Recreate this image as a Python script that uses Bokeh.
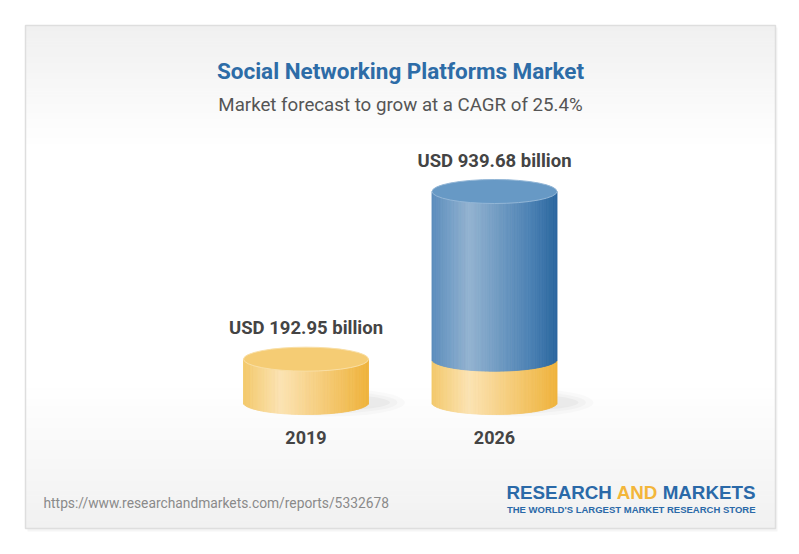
import numpy as np
from bokeh.plotting import figure
from bokeh.models import Range1d
from bokeh.core.properties import value
from bokeh.embed import file_html
from bokeh.resources import INLINE

# ---------------- data ----------------
title_text = "Social Networking Platforms Market"
subtitle_text = "Market forecast to grow at a CAGR of 25.4%"
years = ["2019", "2026"]
market_usd_bn = [192.95, 939.68]
value_labels = ["USD 192.95 billion", "USD 939.68 billion"]
source_url = "https://www.researchandmarkets.com/reports/5332678"
brand_left = "RESEARCH"
brand_mid = "AND"
brand_right = "MARKETS"
tagline = "THE WORLD'S LARGEST MARKET RESEARCH STORE"

# ---------------- layout ----------------
W, H = 783, 538
BASE_PX = 402.0          # pixel row of value 0 (cylinder base centre)
TOP_PX = 191.0           # pixel row of the largest value
scale = (BASE_PX - TOP_PX) / max(market_usd_bn)   # px per billion
y_lo = -(H - BASE_PX) / scale
y_hi = BASE_PX / scale

centers = [305.5, 494.0]
semi_w = 62.5
semi_h = 12.0            # ellipse semi-height in px
b_val = semi_h / scale   # in value units

p = figure(width=W, height=H, x_range=Range1d(0, W), y_range=Range1d(y_lo, y_hi),
           output_backend="svg", toolbar_location=None, min_border=0,
           x_axis_type=None, y_axis_type=None)
p.extra_y_ranges = {"px": Range1d(H, 0)}
p.grid.visible = False
p.outline_line_color = None
p.background_fill_color = "white"
p.border_fill_color = "white"


def hex2rgb(h):
    h = h.lstrip("#")
    return np.array([int(h[i:i + 2], 16) for i in (0, 2, 4)], dtype=float)


def grad(stops, t):
    pos = [s[0] for s in stops]
    cols = [hex2rgb(s[1]) for s in stops]
    out = []
    for tt in t:
        for k in range(len(pos) - 1):
            if pos[k] <= tt <= pos[k + 1]:
                f = (tt - pos[k]) / (pos[k + 1] - pos[k])
                c = cols[k] * (1 - f) + cols[k + 1] * f
                break
        else:
            c = cols[-1]
        out.append("#%02x%02x%02x" % tuple(int(round(v)) for v in c))
    return out


# ---------------- card ----------------
CL, CR, CT, CB = 25, 775, 25, 528
p.quad(left=[CL + 2], right=[CR + 2], top=[CB + 3], bottom=[CT + 2], y_range_name="px",
       fill_color="#000000", fill_alpha=0.04, line_color=None)
p.quad(left=[CL], right=[CR], top=[CB], bottom=[CT], y_range_name="px",
       fill_color="white", line_color=None)
n = 40
ys = np.linspace(CT, 150, n + 1)
cols = grad([(0, "#f0f0f0"), (1, "#ffffff")], np.linspace(0, 1, n))
p.quad(left=CL, right=CR, top=ys[:-1], bottom=ys[1:] + 0.6, y_range_name="px",
       fill_color=cols, line_color=None)
ys = np.linspace(380, CB, n + 1)
cols = grad([(0, "#ffffff"), (1, "#f1f1f1")], np.linspace(0, 1, n))
p.quad(left=CL, right=CR, top=ys[:-1], bottom=ys[1:] + 0.6, y_range_name="px",
       fill_color=cols, line_color=None)
p.quad(left=[CL], right=[CR], top=[CB], bottom=[CT], y_range_name="px",
       fill_color=None, line_color="#dedede", line_width=1.5)

# ---------------- cylinders ----------------
yellow_stops = [(0, "#f3c86a"), (0.3, "#fbe3b3"), (1, "#efb33c")]
blue_stops = [(0, "#5a8cbc"), (0.3, "#93b3d0"), (0.8, "#4a80b3"), (1, "#2b679f")]
N = 90


def body(cx, bottoms_fn, tops_fn, stops):
    edges = np.linspace(cx - semi_w, cx + semi_w, N + 1)
    mids = (edges[:-1] + edges[1:]) / 2
    t = (mids - edges[0]) / (2 * semi_w)
    curve = np.sqrt(np.clip(1 - ((mids - cx) / semi_w) ** 2, 0, 1))
    c = grad(stops, t)
    p.quad(left=edges[:-1], right=edges[1:], bottom=bottoms_fn(curve), top=tops_fn(curve),
           fill_color=c, line_color=c, line_width=0.9)


# shadows
for cx in centers:
    for w_, h_, a_ in [(150, 28, 0.02), (135, 22, 0.025), (120, 16, 0.03)]:
        p.ellipse(x=[cx + 24], y=[0], width=[w_], height=[h_], height_units="screen",
                  fill_color="#000000", fill_alpha=a_, line_color=None)

v0, v1 = market_usd_bn
# 2019 cylinder (yellow)
body(centers[0], lambda c: -b_val * c, lambda c: np.full_like(c, v0), yellow_stops)
p.ellipse(x=[centers[0]], y=[v0], width=[2 * semi_w], height=[2 * semi_h], height_units="screen",
          fill_color="#f5cc74", line_color="#f9dfa6", line_width=1)

# 2026 cylinder: yellow base (2019 level) + blue growth
body(centers[1], lambda c: -b_val * c, lambda c: v0 - b_val * c, yellow_stops)
body(centers[1], lambda c: v0 - b_val * c, lambda c: np.full_like(c, v1), blue_stops)
p.ellipse(x=[centers[1]], y=[v1], width=[2 * semi_w], height=[2 * semi_h], height_units="screen",
          fill_color="#6799c5", line_color="#93b6d6", line_width=1)

# value labels above cylinders
p.text(x=centers, y=market_usd_bn, text=value_labels, y_offset=-31,
       text_align="center", text_baseline="alphabetic",
       text_font=value("Roboto"), text_font_style="bold", text_font_size="18.5px",
       text_color="#444444")

# year labels
p.text(x=centers, y=[437, 437], text=years, y_range_name="px",
       text_align="center", text_baseline="alphabetic",
       text_font=value("Roboto"), text_font_style="bold", text_font_size="18px",
       text_color="#444444")

# ---------------- titles ----------------
p.text(x=[400], y=[70], text=[title_text], y_range_name="px",
       text_align="center", text_baseline="alphabetic",
       text_font=value("Roboto"), text_font_style="bold", text_font_size="22.5px",
       text_color="#2d6ca7")
p.text(x=[400], y=[104], text=[subtitle_text], y_range_name="px",
       text_align="center", text_baseline="alphabetic",
       text_font=value("Roboto"), text_font_size="18.7px",
       text_color="#555555")

# ---------------- footer ----------------
p.text(x=[43], y=[502], text=[source_url], y_range_name="px",
       text_align="left", text_baseline="alphabetic",
       text_font=value("Roboto"), text_font_size="13.8px", text_color="#8a8a8a")

logo_font = value("Liberation Sans")
p.text(x=[506], y=[492], text=[brand_left], y_range_name="px",
       text_align="left", text_baseline="alphabetic",
       text_font=logo_font, text_font_style="bold", text_font_size="18.8px", text_color="#2a69a8")
p.text(x=[636.5], y=[492], text=[brand_mid], y_range_name="px",
       text_align="center", text_baseline="alphabetic",
       text_font=logo_font, text_font_style="bold", text_font_size="18.8px", text_color="#f3b63a")
p.text(x=[755], y=[492], text=[brand_right], y_range_name="px",
       text_align="right", text_baseline="alphabetic",
       text_font=logo_font, text_font_style="bold", text_font_size="18.8px", text_color="#2a69a8")
p.text(x=[755], y=[509], text=[tagline], y_range_name="px",
       text_align="right", text_baseline="alphabetic",
       text_font=logo_font, text_font_style="bold", text_font_size="9.5px", text_color="#2a69a8")

open("out.html", "w").write(file_html(p, INLINE))
